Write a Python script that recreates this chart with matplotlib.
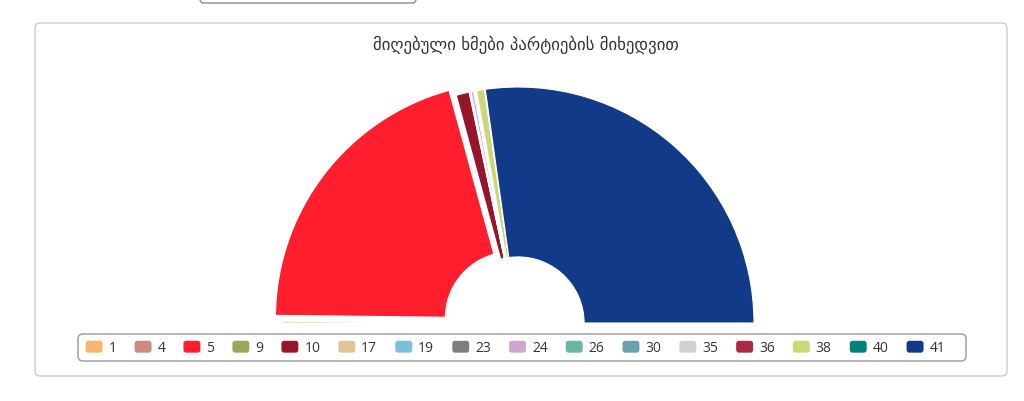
import matplotlib
matplotlib.use("Agg")
import matplotlib.pyplot as plt
from matplotlib.patches import FancyBboxPatch
from matplotlib.legend_handler import HandlerPatch

parties = ['1', '4', '5', '9', '10', '17', '19', '23', '24', '26', '30', '35', '36', '38', '40', '41']
votes = [0.25, 0.1, 41.1, 0.1, 1.8, 0.1, 0.05, 0.1, 0.35, 0.1, 0.05, 0.1, 0.15, 1.1, 0.1, 54.4]
colors = ['#fbb46e', '#cc8b80', '#fe1e2e', '#96a95b', '#96152b', '#e0c495', '#7cbfdb', '#7e7e80',
          '#cda8cc', '#69b6a4', '#6aa0ae', '#d0d0d0', '#a82a44', '#cdd77a', '#00827a', '#113b88']
title = 'მიღებული ხმები პარტიების მიხედვით'


# rounded squares in the legend
class RoundHandler(HandlerPatch):
    def create_artists(self, legend, orig_handle, xdescent, ydescent, width, height, fontsize, trans):
        p = FancyBboxPatch((-xdescent, -ydescent), width, height,
                           boxstyle='round,pad=0,rounding_size=2',
                           facecolor=orig_handle.get_facecolor(), edgecolor='none', transform=trans)
        return [p]


fig = plt.figure(figsize=(10.24, 4.01), dpi=100)

# outer panel and the cut-off input box at the top
fig.add_artist(FancyBboxPatch((0.35, 0.25), 9.72, 3.53, boxstyle='round,pad=0,rounding_size=0.05',
                              transform=fig.dpi_scale_trans, facecolor='none', edgecolor='#cccccc', lw=1))
fig.add_artist(FancyBboxPatch((2.0, 3.98), 2.16, 0.3, boxstyle='round,pad=0,rounding_size=0.04',
                              transform=fig.dpi_scale_trans, facecolor='none', edgecolor='#8a8a8a', lw=1))

# pie axes: centre at (518, 323) px, radius 236 px
ax = fig.add_axes([(518 - 236) / 1024, (78 - 236) / 401, 472 / 1024, 472 / 401])

total = sum(votes)
vals = votes + [total]  # hidden lower half
explode = [0.035 if p == '5' else 0 for p in parties] + [0]
wedges, _ = ax.pie(vals, colors=colors + ['none'], startangle=180, counterclock=False,
                   explode=explode, radius=1,
                   wedgeprops=dict(width=0.72, edgecolor='white', linewidth=0.8))
wedges[-1].set_edgecolor('none')
for w in wedges:
    w.set_clip_on(False)
ax.set_xlim(-1, 1)
ax.set_ylim(-1, 1)
ax.axis('off')

fig.text(526 / 1024, (401 - 45) / 401, title, ha='center', va='center',
         fontsize=12.1, color='#333333', family=['DejaVu Sans'])

# legend with its own rounded frame
fig.add_artist(FancyBboxPatch((0.78, 0.40), 8.88, 0.27, boxstyle='round,pad=0,rounding_size=0.05',
                              transform=fig.dpi_scale_trans, facecolor='none', edgecolor='#999999', lw=1))
leg = fig.legend(wedges[:len(parties)], parties, loc='center', bbox_to_anchor=(515.5 / 1024, (401 - 348) / 401),
                 ncol=len(parties), frameon=False, prop={'family': 'Open Sans', 'size': 10},
                 handlelength=1.22, handleheight=0.94, handletextpad=0.43, columnspacing=1.3,
                 labelcolor='#333333', handler_map={matplotlib.patches.Wedge: RoundHandler()})

fig.savefig('out.png', dpi=100)
